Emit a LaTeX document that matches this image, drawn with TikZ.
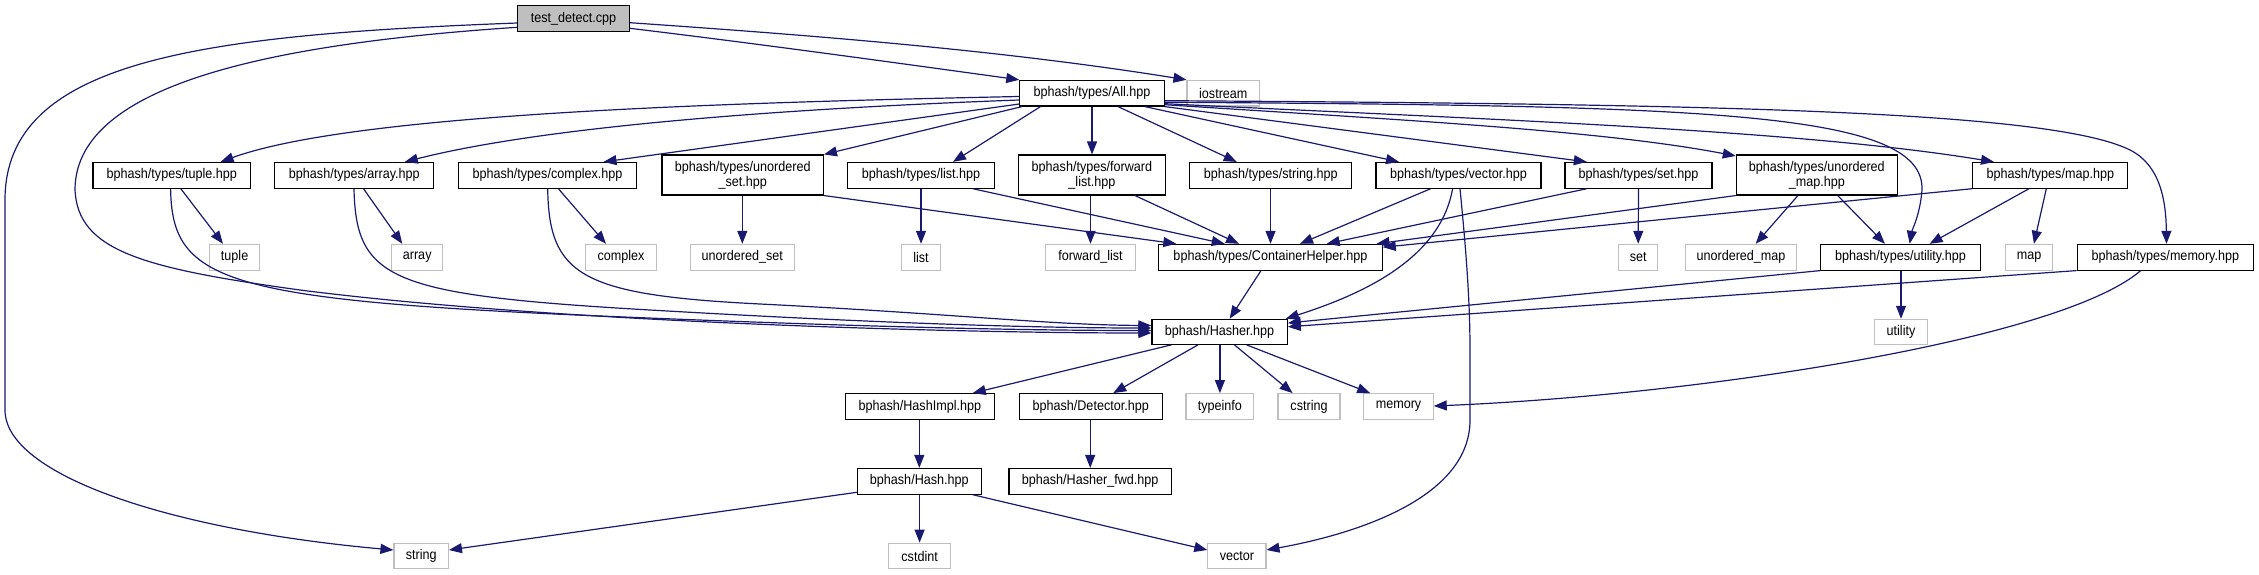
\documentclass[tikz,border=0pt]{standalone}
\usepackage{fontspec}
\setmainfont{Liberation Sans}[FakeStretch=0.9]
\usetikzlibrary{arrows.meta}
\definecolor{edgeblue}{HTML}{191970}
\definecolor{leafgray}{HTML}{BFBFBF}
\begin{document}
\begin{tikzpicture}[x=1pt,y=-1pt,
 every node/.style={font=\fontsize{14}{15}\selectfont, inner sep=0pt, align=center},
 hbox/.style={draw=black, line width=1.1pt, fill=white, minimum height=25.7pt},
 hboxtwo/.style={hbox, minimum height=40pt},
 leaf/.style={draw=leafgray, line width=1.1pt, fill=white, minimum height=25.7pt},
 rootbox/.style={hbox, fill=leafgray},
 edge/.style={draw=edgeblue, line width=1.2pt, -{Triangle[length=13pt,width=10pt]}}]
\useasboundingbox (0,0) rectangle (2259,575);
% row 0-1
\node[rootbox, minimum width=111.5pt] (root) at (573.5,18.5) {test\_detect.cpp};
\node[hbox, minimum width=144.4pt] (all) at (1092,93.2) {bphash/types/All.hpp};
\node[leaf, minimum width=72.6pt] (iostream) at (1223.3,93.2) {iostream};
% row 2
\node[hbox, minimum width=157.6pt] (tupleH) at (171.8,175.3) {bphash/types/tuple.hpp};
\node[hbox, minimum width=159pt] (arrayH) at (354.3,175.3) {bphash/types/array.hpp};
\node[hbox, minimum width=178pt] (complexH) at (547.5,175.3) {bphash/types/complex.hpp};
\node[hboxtwo, minimum width=161.4pt] (usetH) at (742.7,175) {bphash/types/unordered\\\_set.hpp};
\node[hbox, minimum width=147pt] (listH) at (921,175.3) {bphash/types/list.hpp};
\node[hboxtwo, minimum width=146.4pt] (flistH) at (1091.9,175) {bphash/types/forward\\\_list.hpp};
\node[hbox, minimum width=162pt] (stringH) at (1270.7,175.3) {bphash/types/string.hpp};
\node[hbox, minimum width=165pt] (vectorH) at (1458.5,175.3) {bphash/types/vector.hpp};
\node[hbox, minimum width=147pt] (setH) at (1638.5,175.3) {bphash/types/set.hpp};
\node[hboxtwo, minimum width=161pt] (umapH) at (1816.8,175) {bphash/types/unordered\\\_map.hpp};
\node[hbox, minimum width=155pt] (mapH) at (2050.3,175.3) {bphash/types/map.hpp};
% row 3
\node[leaf, minimum width=50.4pt] (tupleL) at (234.6,257.2) {tuple};
\node[leaf, minimum width=51pt] (arrayL) at (417.2,257.2) {array};
\node[leaf, minimum width=70.7pt] (complexL) at (621,257.2) {complex};
\node[leaf, minimum width=104pt] (usetL) at (742.3,257.2) {unordered\_set};
\node[leaf, minimum width=38.3pt] (listL) at (921,257.2) {list};
\node[leaf, minimum width=89.2pt] (flistL) at (1090.5,257.2) {forward\_list};
\node[hbox, minimum width=223.5pt] (ch) at (1270.5,257.2) {bphash/types/ContainerHelper.hpp};
\node[leaf, minimum width=39.2pt] (setL) at (1638.2,257.2) {set};
\node[leaf, minimum width=110.7pt] (umapL) at (1741,257.2) {unordered\_map};
\node[hbox, minimum width=159.4pt] (utilH) at (1900.5,257.2) {bphash/types/utility.hpp};
\node[leaf, minimum width=46.7pt] (mapL) at (2029,257.2) {map};
\node[hbox, minimum width=176.4pt] (memH) at (2165.3,257.2) {bphash/types/memory.hpp};
% row 4
\node[hbox, minimum width=135.3pt, minimum height=25pt] (hasher) at (1219.6,331.8) {bphash/Hasher.hpp};
\node[leaf, minimum width=53.2pt, minimum height=25pt] (utilL) at (1901,331.8) {utility};
% row 5
\node[hbox, minimum width=149.3pt] (hashimpl) at (919.8,406.5) {bphash/HashImpl.hpp};
\node[hbox, minimum width=143pt] (detector) at (1090.7,406.5) {bphash/Detector.hpp};
\node[leaf, minimum width=67.8pt] (typeinfo) at (1219.9,406.5) {typeinfo};
\node[leaf, minimum width=62pt] (cstring) at (1309,406.5) {cstring};
\node[leaf, minimum width=69.4pt] (memL) at (1398.5,406.5) {memory};
% row 6
\node[hbox, minimum width=124pt] (hash) at (919.3,481.3) {bphash/Hash.hpp};
\node[hbox, minimum width=162.4pt] (hfwd) at (1090.2,481.3) {bphash/Hasher\_fwd.hpp};
% row 7
\node[leaf, minimum width=54.4pt] (stringL) at (421.2,556) {string};
\node[leaf, minimum width=61.6pt] (cstdint) at (919.6,556) {cstdint};
\node[leaf, minimum width=58.1pt] (vectorL) at (1236.9,556) {vector};

% edges from root
\draw[edge] ([yshift=-9.8pt]root.east) .. controls (760,44) and (890,62) .. (all.north west);
\draw[edge] ([yshift=-4.2pt]root.east) .. controls (815,35.5) and (1000,50) .. (iostream.north west);
\draw[edge] ([yshift=-8.8pt]root.west) .. controls (250,45) and (75,90) .. (75,190)
   .. controls (78,250) and (140,268) .. (300,290) .. controls (550,322) and (950,333) .. ([yshift=-1.2pt]hasher.west);
\draw[edge] ([yshift=-4.5pt]root.west) .. controls (200,35) and (5,60) .. (5,200) -- (5,410)
   .. controls (5,475) and (170,530) .. ([yshift=6pt]stringL.west);

% edges from All
\draw[edge] ([yshift=-3.3pt]all.west) .. controls (700,103) and (350,115) .. ([xshift=48.8pt]tupleH.north);
\draw[edge] ([yshift=-6.8pt]all.west) .. controls (800,108) and (550,125) .. ([xshift=50.5pt]arrayH.north);
\draw[edge] ([yshift=-10.8pt]all.west) -- ([xshift=56pt]complexH.north);
\draw[edge] ([xshift=-70pt]all.south) -- (usetH.north east);
\draw[edge] ([xshift=-51.5pt]all.south) -- ([xshift=32pt]listH.north);
\draw[edge] (all.south) -- (all.south |- flistH.north);
\draw[edge] ([xshift=26pt]all.south) -- ([xshift=-34pt]stringH.north);
\draw[edge] ([xshift=52.8pt]all.south) -- ([xshift=-59.5pt]vectorH.north);
\draw[edge] (all.south east) -- ([xshift=-51.7pt]setH.north);
\draw[edge] ([yshift=-11.5pt]all.east) .. controls (1400,120) and (1600,130) .. ([yshift=-1.5pt]umapH.north west);
\draw[edge] ([yshift=-10.5pt]all.east) .. controls (1500,120) and (1800,130) .. ([xshift=-56.3pt]mapH.north);
\draw[edge] ([yshift=-9pt]all.east) .. controls (1700,106) and (1925,110) .. (1922,190)
   .. controls (1920,215) and (1912,230) .. ([xshift=9.2pt]utilH.north);
\draw[edge] ([yshift=-7.5pt]all.east) .. controls (1700,104) and (2050,110) .. (2130,150)
   .. controls (2160,165) and (2166,200) .. ([xshift=1.2pt]memH.north);

% row 2 edges
\draw[edge] ([xshift=9pt]tupleH.south) -- ([xshift=-11.6pt]tupleL.north);
\draw[edge] ([xshift=-1.2pt]tupleH.south) .. controls (172,280) and (220,300) .. (600,316)
   .. controls (900,328.6) and (1050,330.5) .. ([yshift=1.3pt]hasher.west);
\draw[edge] ([xshift=9.2pt]arrayH.south) -- ([xshift=-14.9pt]arrayL.north);
\draw[edge] ([xshift=-0.3pt]arrayH.south) .. controls (356,280) and (390,295) .. (650,310)
   .. controls (900,324.5) and (1050,328) .. ([yshift=3.8pt]hasher.west);
\draw[edge] ([xshift=10.9pt]complexH.south) -- ([xshift=-15pt]complexL.north);
\draw[edge] ([xshift=0.2pt]complexH.south) .. controls (549,275) and (580,295) .. (760,304)
   .. controls (950,313.5) and (1050,325) .. ([yshift=6.3pt]hasher.west);
\draw[edge] (usetL.north |- usetH.south) -- (usetL.north);
\draw[edge] (usetH.south east) -- ([xshift=-94.2pt]ch.north);
\draw[edge] (listH.south) -- (listL.north);
\draw[edge] ([xshift=51.7pt]listH.south) -- ([xshift=-45.8pt]ch.north);
\draw[edge] (flistL.north |- flistH.south) -- (flistL.north);
\draw[edge] ([xshift=43.1pt]flistH.south) -- ([xshift=-31.5pt]ch.north);
\draw[edge] (ch.north |- stringH.south) -- (ch.north);
\draw[edge] ([xshift=-27.8pt]vectorH.south) -- ([xshift=29.5pt]ch.north);
\draw[edge] ([xshift=-5.9pt]vectorH.south) .. controls (1440,260) and (1360,295) .. ([xshift=-2pt]hasher.north east);
\draw[edge] ([xshift=1.5pt]vectorH.south) .. controls (1466,250) and (1470,300) .. (1470,350) -- (1470,420)
   .. controls (1470,500) and (1350,535) .. ([yshift=6pt]vectorL.east);
\draw[edge] ([xshift=-51.7pt]setH.south) -- ([xshift=56.2pt]ch.north);
\draw[edge] (setH.south) -- (setL.north);
\draw[edge] (umapH.south west) -- ([xshift=106pt]ch.north);
\draw[edge] (mapH.south west) -- ([yshift=10pt]ch.east);
\draw[edge] ([xshift=-18.9pt]umapH.south) -- ([xshift=14.7pt]umapL.north);
\draw[edge] ([xshift=20.9pt]umapH.south) -- ([xshift=-15.6pt]utilH.north);
\draw[edge] ([xshift=-21.3pt]mapH.south) -- ([xshift=29.1pt]utilH.north);
\draw[edge] ([xshift=-4pt]mapH.south) -- ([xshift=4.9pt]mapL.north);

% row 3 edges
\draw[edge] (utilL.north |- utilH.south) -- (utilL.north);
\draw[edge] (utilH.south west) -- ([yshift=8.8pt]hasher.east);
\draw[edge] (memH.south west) -- ([yshift=5pt]hasher.east);
\draw[edge] ([xshift=-24.6pt]memH.south) .. controls (2060,340) and (1700,395) .. ([yshift=0.5pt]memL.east);
\draw[edge] ([xshift=-9.5pt]ch.south) -- ([xshift=10pt]hasher.north);

% Hasher edges
\draw[edge] ([xshift=-48.2pt]hasher.south) -- ([xshift=52.9pt]hashimpl.north);
\draw[edge] ([xshift=-21.6pt]hasher.south) -- ([xshift=22.5pt]detector.north);
\draw[edge] (typeinfo.north |- hasher.south) -- (typeinfo.north);
\draw[edge] ([xshift=14.8pt]hasher.south) -- ([xshift=-16.4pt]cstring.north);
\draw[edge] ([xshift=26.9pt]hasher.south) -- ([xshift=-28.3pt]memL.north);
\draw[edge] (hash.north |- hashimpl.south) -- (hash.north);
\draw[edge] (hfwd.north |- detector.south) -- (hfwd.north);
\draw[edge] ([yshift=-11pt]hash.west) -- ([yshift=6pt]stringL.east);
\draw[edge] (cstdint.north |- hash.south) -- (cstdint.north);
\draw[edge] ([xshift=53.4pt]hash.south) -- ([yshift=6pt]vectorL.west);
\end{tikzpicture}
\end{document}
